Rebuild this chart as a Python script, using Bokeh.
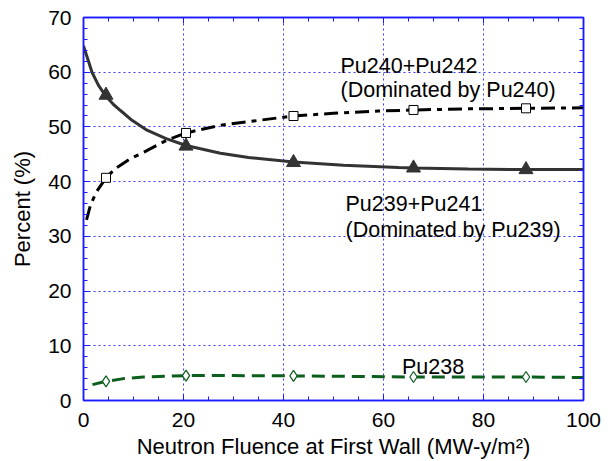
from bokeh.plotting import figure
from bokeh.models import Range1d, LinearAxis, SingleIntervalTicker, Label
from bokeh.embed import file_html
from bokeh.resources import INLINE

# ---- data ----
marker_x = [4.5, 20.5, 42, 66, 88.5]

pu239_x = [0, 1, 1.7, 3, 4.5, 6, 7.4, 9.7, 12.7, 16.4, 20.5, 23.4, 27.4, 33, 42, 52, 63, 66, 77, 88.5, 100]
pu239_y = [64.8, 62.0, 60.0, 57.6, 55.6, 54.1, 53.0, 51.2, 49.4, 47.9, 46.6, 46.0, 45.2, 44.4, 43.6, 43.0, 42.6, 42.5, 42.3, 42.2, 42.2]
pu239_m = [55.8, 46.5, 43.5, 42.5, 42.2]

pu240_x = [0.6, 1.4, 2.5, 4.5, 6.4, 9.4, 12.1, 16.7, 20.5, 23.4, 27.4, 35, 42, 50, 59, 66, 77, 88.5, 100]
pu240_y = [33.0, 35.7, 38.0, 40.7, 42.4, 44.2, 45.4, 47.6, 48.9, 49.5, 50.3, 51.2, 52.0, 52.5, 52.9, 53.1, 53.3, 53.4, 53.5]
pu240_m = [40.7, 48.9, 52.0, 53.1, 53.4]

pu238_x = [1.8, 4.5, 8, 12, 20.5, 30, 42, 54, 66, 77, 88.5, 100]
pu238_y = [2.9, 3.5, 4.0, 4.3, 4.55, 4.55, 4.5, 4.4, 4.3, 4.3, 4.3, 4.2]
pu238_m = [3.5, 4.55, 4.5, 4.3, 4.3]

labels = [
    ("Pu240+Pu242", 51.4, 61.2),
    ("(Dominated by Pu240)", 51.4, 56.7),
    ("Pu239+Pu241", 52.4, 36.0),
    ("(Dominated by Pu239)", 52.4, 31.2),
    ("Pu238", 63.7, 6.1),
]

FONT = "Liberation Sans"
BLUE = "#1a1aff"
GRID = "#3a3aff"

p = figure(width=613, height=461, output_backend="svg", toolbar_location=None,
           x_range=Range1d(0, 100), y_range=Range1d(0, 70),
           min_border_left=83, min_border_right=30, min_border_top=17, min_border_bottom=60)
p.background_fill_color = "white"
p.border_fill_color = "white"
p.outline_line_color = BLUE
p.outline_line_width = 1.5

p.xaxis.ticker = SingleIntervalTicker(interval=20, num_minor_ticks=4)
p.yaxis.ticker = SingleIntervalTicker(interval=10, num_minor_ticks=5)

for ax in [p.xaxis[0], p.yaxis[0]]:
    ax.axis_line_color = BLUE
    ax.axis_line_width = 1.5
    ax.major_tick_line_color = BLUE
    ax.minor_tick_line_color = BLUE
    ax.major_tick_in = 6
    ax.major_tick_out = 0
    ax.minor_tick_in = 4
    ax.minor_tick_out = 0
    ax.major_label_text_font = FONT
    ax.major_label_text_font_size = "21px"
    ax.major_label_text_color = "black"
    ax.axis_label_text_font = FONT
    ax.axis_label_text_font_size = "22px"
    ax.axis_label_text_font_style = "normal"
    ax.axis_label_text_color = "black"

p.xaxis.axis_label = "Neutron Fluence at First Wall (MW-y/m²)"
p.yaxis.axis_label = "Percent (%)"
p.xaxis.major_label_standoff = 12
p.yaxis.major_label_standoff = 12
p.xaxis.axis_label_standoff = 4
p.yaxis.axis_label_standoff = 10

# top and right axes with inward ticks only
top = LinearAxis(ticker=SingleIntervalTicker(interval=20, num_minor_ticks=4))
right = LinearAxis(ticker=SingleIntervalTicker(interval=10, num_minor_ticks=5))
for ax in [top, right]:
    ax.axis_line_color = BLUE
    ax.axis_line_width = 1.5
    ax.major_tick_line_color = BLUE
    ax.minor_tick_line_color = BLUE
    ax.major_tick_in = 6
    ax.major_tick_out = 0
    ax.minor_tick_in = 4
    ax.minor_tick_out = 0
    ax.major_label_text_color = None
    ax.major_label_text_font_size = "0px"
    ax.major_label_standoff = 0
p.add_layout(top, "above")
p.add_layout(right, "right")

p.xgrid.ticker = p.xaxis[0].ticker
p.ygrid.ticker = p.yaxis[0].ticker
for g in [p.xgrid[0], p.ygrid[0]]:
    g.grid_line_color = GRID
    g.grid_line_dash = "2 3"
    g.grid_line_width = 1

# curves
p.line(pu239_x, pu239_y, line_color="#333333", line_width=3)
p.line(pu240_x, pu240_y, line_color="black", line_width=3, line_dash="14 6 5 6")
p.line(pu238_x, pu238_y, line_color="#0b5e1c", line_width=3, line_dash="13 7")

# markers
p.scatter(marker_x, pu239_m, marker="triangle", size=14, fill_color="#333333", line_color="#333333")
p.scatter(marker_x, pu240_m, marker="square", size=9, fill_color="white", line_color="black", line_width=1)
p.scatter(marker_x, pu238_m, marker="diamond", size=11, fill_color="white", line_color="#0b5e1c", line_width=1.2)

for txt, x, y in labels:
    p.add_layout(Label(x=x, y=y, text=txt, text_font=FONT, text_font_size="21.5px",
                       text_color="black", text_baseline="alphabetic", text_align="left"))

open("out.html", "w").write(file_html(p, INLINE))
